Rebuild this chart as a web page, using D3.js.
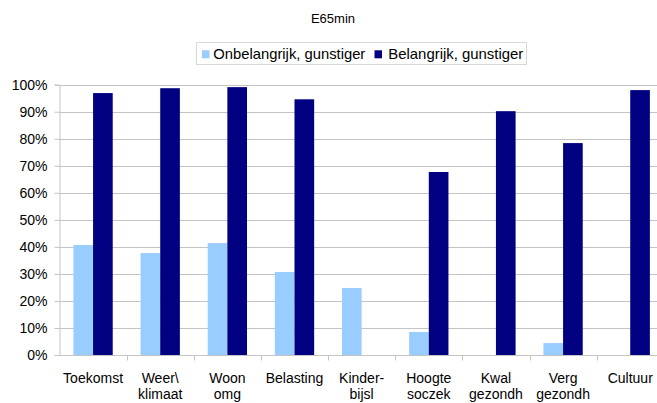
<!DOCTYPE html>
<html><head><meta charset="utf-8">
<script src="https://cdn.jsdelivr.net/npm/d3@7"></script>
<style>body{margin:0;background:#fff}svg{display:block;font-family:"Liberation Sans",Arial,sans-serif}</style>
</head><body>
<svg id="c" width="657" height="403"></svg>
<script>
const title = "E65min";
const categories = [["Toekomst"],["Weer\\","klimaat"],["Woon","omg"],["Belasting"],["Kinder-","bijsl"],["Hoogte","soczek"],["Kwal","gezondh"],["Verg","gezondh"],["Cultuur"]];
const seriesNames = ["Onbelangrijk, gunstiger","Belangrijk, gunstiger"];
const onbelangrijk = [40.7,37.7,41.4,30.7,24.8,8.5,0,4.4,0];
const belangrijk = [96.9,98.7,99.1,94.6,0,67.7,90.2,78.4,98.0];
const yTicks = [0,10,20,30,40,50,60,70,80,90,100];
const colors = ["#99ccff","#000080"];

(function(){
const svg = d3.select("#c");
const pLeft = 59.5, pRight = 663.8, pTop = 84.7, pBottom = 355;
const idx = categories.map((d,i)=>i);
const x = d3.scaleBand().domain(idx).range([pLeft,pRight]).paddingInner(0).paddingOuter(0);
const y = d3.scaleLinear().domain([0,100]).range([pBottom,pTop]);
const x1 = d3.scaleBand().domain([0,1]).range([0,39.3]);
const groupOff = (x.bandwidth()-39.3)/2;

// gridlines
svg.append("g").selectAll("line").data(yTicks).join("line")
  .attr("x1",pLeft).attr("x2",657).attr("y1",d=>Math.round(y(d))+0.5).attr("y2",d=>Math.round(y(d))+0.5)
  .attr("stroke","#c4c4c4").attr("stroke-width",1);

// y axis
const ya = svg.append("g").attr("transform",`translate(${Math.round(pLeft)-0.5},0)`)
  .call(d3.axisLeft(y).tickValues(yTicks).tickFormat(d=>d+"%").tickSize(5).tickPadding(7));
ya.select(".domain").attr("stroke","#c4c4c4");
ya.selectAll(".tick line").attr("stroke","#c4c4c4");
ya.selectAll("text").attr("font-size",14).attr("fill","#000").attr("font-family","Liberation Sans, Arial, sans-serif");

// bars
const series = [onbelangrijk, belangrijk];
series.forEach((vals,s)=>{
  svg.append("g").selectAll("rect").data(vals).join("rect")
    .attr("x",(d,i)=>x(i)+groupOff+x1(s))
    .attr("width",x1.bandwidth())
    .attr("y",d=>y(d))
    .attr("height",d=>pBottom-y(d))
    .attr("fill",colors[s]);
});

// x axis
const xa = svg.append("g").attr("transform",`translate(0,${pBottom+0.5})`);
xa.append("line").attr("x1",pLeft).attr("x2",657).attr("stroke","#c4c4c4");
xa.selectAll("line.t").data(d3.range(1,categories.length+1)).join("line").attr("class","t")
  .attr("x1",d=>Math.round(x(0)+d*x.bandwidth())+0.5).attr("x2",d=>Math.round(x(0)+d*x.bandwidth())+0.5)
  .attr("y1",0).attr("y2",5).attr("stroke","#c4c4c4");
const lab = svg.append("g").selectAll("text").data(categories).join("text")
  .attr("x",(d,i)=>x(i)+x.bandwidth()/2).attr("y",382.5)
  .attr("text-anchor","middle").attr("font-size",14).attr("fill","#000");
lab.each(function(d){
  const t=d3.select(this);
  d.forEach((l,j)=>t.append("tspan").attr("x",t.attr("x")).attr("dy",j?16.8:0).text(l));
});

// title
svg.append("text").attr("x",333).attr("y",23.3).attr("text-anchor","middle").attr("font-size",13).text(title);

// legend
const lg = svg.append("g");
lg.append("rect").attr("x",196.5).attr("y",42.5).attr("width",330).attr("height",22).attr("fill","#fff").attr("stroke","#d8d8d8");
const legX = [202,374.5];
const legW = [152,135];
seriesNames.forEach((n,i)=>{
  lg.append("rect").attr("x",legX[i]).attr("y",50.3).attr("width",7.5).attr("height",8).attr("fill",colors[i]);
  lg.append("text").attr("x",legX[i]+(i?13.8:11.3)).attr("y",58.8).attr("font-size",14.5)
    .attr("textLength",legW[i]).attr("lengthAdjust","spacingAndGlyphs").text(n);
});
})();
</script>
</body></html>
